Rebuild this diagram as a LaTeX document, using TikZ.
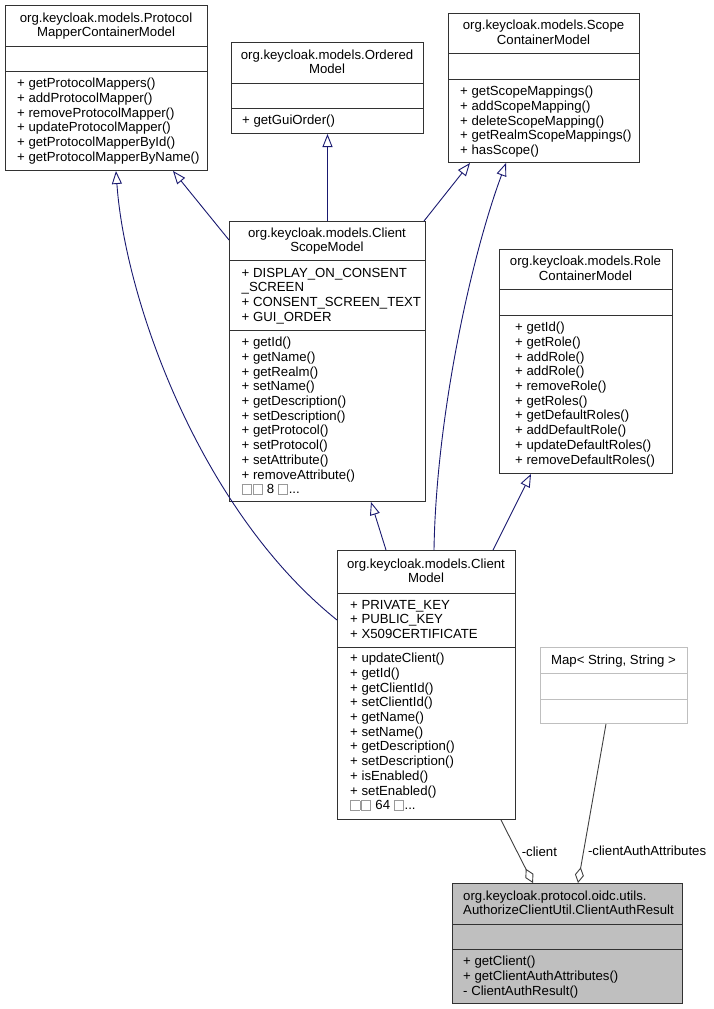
\documentclass[tikz,border=0pt]{standalone}
\usepackage{fontspec}
\setmainfont{Liberation Sans}
\usetikzlibrary{arrows.meta}
\definecolor{edgeblue}{RGB}{25,25,112}
\definecolor{boxline}{RGB}{50,50,50}
\definecolor{lightline}{RGB}{191,191,191}
\definecolor{selfill}{RGB}{191,191,191}
\newcommand\umlfont{\fontsize{13.2}{14.7}\selectfont}
\newcommand\firststrut{\rule{0pt}{10pt}}
\newcommand\tofu{{\setlength\fboxrule{0.7pt}\setlength\fboxsep{0pt}\textcolor{black!40}{\fbox{\rule{0pt}{8.6pt}\hspace{8.6pt}}}\kern0.8pt}}
\tikzset{
 clsbox/.style={draw=boxline, line width=1pt, inner sep=0pt, anchor=north west},
 sepline/.style={draw=boxline, line width=1pt},
 ttl/.style={anchor=north, align=center, inner sep=0pt, font=\umlfont},
 lst/.style={anchor=north west, align=left, inner sep=0pt, font=\umlfont},
 inh/.style={draw=edgeblue, line width=0.9pt, -{Triangle[open,length=13pt,width=10pt]}},
 agg/.style={draw=black!75, line width=0.9pt, -{Diamond[open,length=16pt,width=9pt]}},
 lbl/.style={anchor=west, inner sep=4pt, font=\umlfont, text=black},
}
\begin{document}
\begin{tikzpicture}[x=1pt,y=-1pt]
\fill[white] (0,0) rectangle (714,1009);
\useasboundingbox (0,0) rectangle (714,1009);

% ProtocolMapperContainerModel
\node[clsbox, minimum width=202pt, minimum height=165pt] (pm) at (5,5) {};
\draw[sepline] (5,46) -- (207,46) (5,71) -- (207,71);
\node[ttl] (pm-t) at (106,12) {\firststrut org.keycloak.models.Protocol\\MapperContainerModel};
\node[lst] (pm-m) at (17,77.5) {\firststrut + getProtocolMappers()\\+ addProtocolMapper()\\+ removeProtocolMapper()\\+ updateProtocolMapper()\\+ getProtocolMapperById()\\+ getProtocolMapperByName()};

% OrderedModel
\node[clsbox, minimum width=192pt, minimum height=91pt] (om) at (231,42) {};
\draw[sepline] (231,83) -- (423,83) (231,108) -- (423,108);
\node[ttl] (om-t) at (327,49) {\firststrut org.keycloak.models.Ordered\\Model};
\node[lst] (om-m) at (242,114.5) {\firststrut + getGuiOrder()};

% ScopeContainerModel
\node[clsbox, minimum width=191pt, minimum height=149pt] (sc) at (448,13) {};
\draw[sepline] (448,53) -- (639,53) (448,79) -- (639,79);
\node[ttl] (sc-t) at (543.5,19.5) {\firststrut org.keycloak.models.Scope\\ContainerModel};
\node[lst] (sc-m) at (460,85.5) {\firststrut + getScopeMappings()\\+ addScopeMapping()\\+ deleteScopeMapping()\\+ getRealmScopeMappings()\\+ hasScope()};

% ClientScopeModel
\node[clsbox, minimum width=196pt, minimum height=280pt] (cs) at (229,221) {};
\draw[sepline] (229,260) -- (425,260) (229,330) -- (425,330);
\node[ttl] (cs-t) at (327,227) {\firststrut org.keycloak.models.Client\\ScopeModel};
\node[lst] (cs-a) at (241.5,267) {\firststrut + DISPLAY\_ON\_CONSENT\\\_SCREEN\\+ CONSENT\_SCREEN\_TEXT\\+ GUI\_ORDER};
\node[lst] (cs-m) at (241.5,336.5) {\firststrut + getId()\\+ getName()\\+ getRealm()\\+ setName()\\+ getDescription()\\+ setDescription()\\+ getProtocol()\\+ setProtocol()\\+ setAttribute()\\+ removeAttribute()\\\tofu\tofu{} 8 \tofu...};

% RoleContainerModel
\node[clsbox, minimum width=173pt, minimum height=224pt] (rc) at (499,249) {};
\draw[sepline] (499,289) -- (672,289) (499,315) -- (672,315);
\node[ttl] (rc-t) at (585.5,255.5) {\firststrut org.keycloak.models.Role\\ContainerModel};
\node[lst] (rc-m) at (515,321.5) {\firststrut + getId()\\+ getRole()\\+ addRole()\\+ addRole()\\+ removeRole()\\+ getRoles()\\+ getDefaultRoles()\\+ addDefaultRole()\\+ updateDefaultRoles()\\+ removeDefaultRoles()};

% ClientModel
\node[clsbox, minimum width=178pt, minimum height=269pt] (cm) at (337,550) {};
\draw[sepline] (337,593) -- (515,593) (337,647) -- (515,647);
\node[ttl] (cm-t) at (426,558) {\firststrut org.keycloak.models.Client\\Model};
\node[lst] (cm-a) at (350,599) {\firststrut + PRIVATE\_KEY\\+ PUBLIC\_KEY\\+ X509CERTIFICATE};
\node[lst] (cm-m) at (350,652.5) {\firststrut + updateClient()\\+ getId()\\+ getClientId()\\+ setClientId()\\+ getName()\\+ setName()\\+ getDescription()\\+ setDescription()\\+ isEnabled()\\+ setEnabled()\\\tofu\tofu{} 64 \tofu...};

% Map<String,String>
\node[clsbox, draw=lightline, minimum width=147pt, minimum height=76pt] (map) at (540,647) {};
\draw[sepline, draw=lightline] (540,673) -- (687,673) (540,699) -- (687,699);
\node[anchor=base, inner sep=0pt, font=\umlfont] (map-t) at (613.5,664) {Map< String, String >};

% ClientAuthResult
\node[clsbox, fill=selfill, minimum width=230pt, minimum height=120pt] (car) at (452,883) {};
\draw[sepline] (452,924) -- (682,924) (452,949) -- (682,949);
\node[lst] (car-t) at (463,890) {\firststrut org.keycloak.protocol.oidc.utils.\\AuthorizeClientUtil.ClientAuthResult};
\node[lst] (car-m) at (463,955.5) {\firststrut + getClient()\\+ getClientAuthAttributes()\\- ClientAuthResult()};

% inheritance
\draw[inh] ([yshift=-70pt]cm.north west) .. controls (200,510) and (125,300) .. ([xshift=111pt]pm.south west);
\draw[inh] ([yshift=-19pt]cs.north west) -- ([xshift=168pt]pm.south west);
\draw[inh] (cs.north) -- (om.south);
\draw[inh] ([xshift=-2pt]cs.north east) -- ([xshift=22pt]sc.south west);
\draw[inh] ([xshift=97pt]cm.north west) .. controls (436,420) and (470,260) .. ([xshift=58pt]sc.south west);
\draw[inh] ([xshift=49pt]cm.north west) -- ([xshift=142pt]cs.south west);
\draw[inh] ([xshift=-23pt]cm.north east) -- ([xshift=32pt]rc.south west);

% aggregation
\draw[agg] ([xshift=-15pt]cm.south east) -- node[lbl, pos=0.51] (l1) {-client} ([xshift=81pt]car.north west);
\draw[agg] ([xshift=66pt]map.south west) -- node[lbl, pos=0.8] (l2) {-clientAuthAttributes} ([xshift=126pt]car.north west);
\end{tikzpicture}
\end{document}
